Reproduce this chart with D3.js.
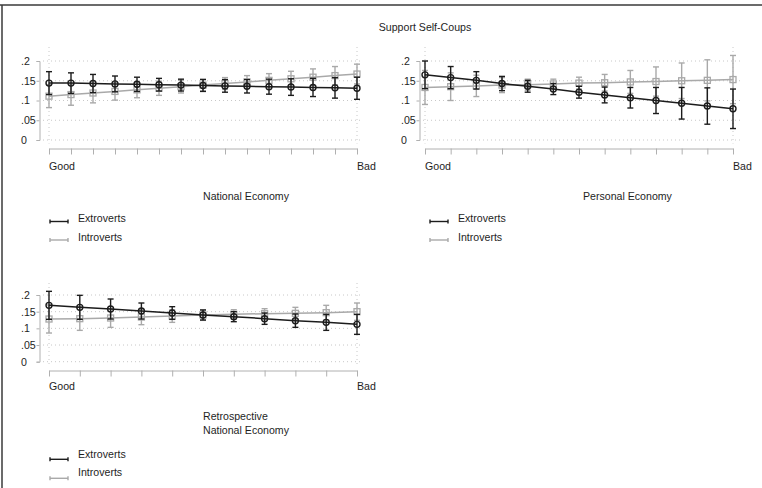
<!DOCTYPE html>
<html>
<head>
<meta charset="utf-8">
<script src="https://cdn.jsdelivr.net/npm/d3@7"></script>
<style>
  html, body { margin: 0; padding: 0; background: #fff; }
  svg { display: block; font-family: "Liberation Sans", Arial, Helvetica, sans-serif; }
</style>
</head>
<body>
<svg id="chart" width="762" height="488"></svg>
<script>
// ---- data -------------------------------------------------------------
const chartTitle = "Support Self-Coups";
const yTicks = [0, 0.05, 0.1, 0.15, 0.2];
const yTickLabels = ["0", ".05", ".1", ".15", ".2"];
const xEndLabels = ["Good", "Bad"];
const seriesNames = ["Extroverts", "Introverts"];

// National economy (15 levels)
const natLevels = [1, 2, 3, 4, 5, 6, 7, 8, 9, 10, 11, 12, 13, 14, 15];
const natExtro = [0.144, 0.144, 0.143, 0.142, 0.141, 0.140, 0.139, 0.138, 0.137, 0.136, 0.135, 0.134, 0.133, 0.132, 0.131];
const natExtroHalf = [0.029, 0.026, 0.023, 0.020, 0.018, 0.016, 0.015, 0.015, 0.016, 0.017, 0.019, 0.021, 0.023, 0.026, 0.028];
const natIntro = [0.111, 0.115, 0.119, 0.123, 0.127, 0.131, 0.135, 0.139, 0.143, 0.147, 0.151, 0.155, 0.159, 0.163, 0.167];
const natIntroHalf = [0.029, 0.027, 0.025, 0.022, 0.020, 0.018, 0.016, 0.015, 0.015, 0.016, 0.017, 0.019, 0.021, 0.023, 0.025];

// Personal economy (13 levels)
const persLevels = [1, 2, 3, 4, 5, 6, 7, 8, 9, 10, 11, 12, 13];
const persExtro = [0.165, 0.158, 0.151, 0.143, 0.136, 0.129, 0.121, 0.114, 0.107, 0.100, 0.093, 0.086, 0.079];
const persExtroHalf = [0.035, 0.028, 0.022, 0.018, 0.015, 0.014, 0.015, 0.020, 0.026, 0.033, 0.040, 0.046, 0.050];
const persIntro = [0.133, 0.135, 0.137, 0.139, 0.140, 0.142, 0.144, 0.145, 0.147, 0.148, 0.150, 0.151, 0.153];
const persIntroHalf = [0.043, 0.035, 0.027, 0.019, 0.014, 0.012, 0.015, 0.021, 0.029, 0.037, 0.045, 0.052, 0.061];

// Retrospective national economy (11 levels)
const retroLevels = [1, 2, 3, 4, 5, 6, 7, 8, 9, 10, 11];
const retroExtro = [0.169, 0.163, 0.158, 0.152, 0.146, 0.140, 0.135, 0.129, 0.123, 0.118, 0.112];
const retroExtroHalf = [0.042, 0.036, 0.030, 0.024, 0.019, 0.015, 0.015, 0.017, 0.020, 0.024, 0.030];
const retroIntro = [0.128, 0.129, 0.131, 0.134, 0.137, 0.140, 0.142, 0.144, 0.145, 0.147, 0.150];
const retroIntroHalf = [0.042, 0.035, 0.028, 0.023, 0.019, 0.016, 0.014, 0.015, 0.018, 0.022, 0.026];

// ---- layout -------------------------------------------------------------
const panels = [
  { title: ["National Economy"], levels: natLevels,
    series: [[natIntro, natIntroHalf], [natExtro, natExtroHalf]],
    ox: 0, axisX: 39.5, x0: 49, x1: 357, yBottom: 140, yTop: 61, plotTop: 47,
    xAxisY: 148.5, gridX0: 43, gridX1: 362, xLabelY: 170,
    titleY: [199.5], legendTextY: [222, 240.5], legendLineY: [221.5, 240] },
  { title: ["Personal Economy"], levels: persLevels,
    series: [[persIntro, persIntroHalf], [persExtro, persExtroHalf]],
    ox: 380, axisX: 39.5, x0: 45, x1: 353, yBottom: 140, yTop: 61, plotTop: 47,
    xAxisY: 148.5, gridX0: 43, gridX1: 363, xLabelY: 170,
    titleY: [199.5], legendTextY: [222, 240.5], legendLineY: [221.5, 240] },
  { title: ["Retrospective", "National Economy"], levels: retroLevels,
    series: [[retroIntro, retroIntroHalf], [retroExtro, retroExtroHalf]],
    ox: 0, axisX: 39.5, x0: 49, x1: 357, yBottom: 361.7, yTop: 295, plotTop: 283,
    xAxisY: 370.5, gridX0: 43, gridX1: 362, xLabelY: 390,
    titleY: [419.5, 434], legendTextY: [458, 476], legendLineY: [459.3, 478.3] }
];

const colors = ["#a9a9a9", "#1c1c1c"];   // introverts, extroverts
const gridColor = "#c8c8c8";
const axisColor = "#b0b0b0";
const textColor = "#1e1e1e";
const fontSize = 10.6;

const svg = d3.select("#chart");

// outer frame (top and left rules)
svg.append("line").attr("x1", 0).attr("x2", 762).attr("y1", 5).attr("y2", 5)
  .attr("stroke", "#3a3a3a").attr("stroke-width", 1.5);
svg.append("line").attr("x1", 2).attr("x2", 2).attr("y1", 5).attr("y2", 488)
  .attr("stroke", "#3a3a3a").attr("stroke-width", 1.5);

svg.append("text").attr("x", 425).attr("y", 31).attr("text-anchor", "middle")
  .attr("font-size", fontSize).attr("fill", textColor).text(chartTitle);

panels.forEach(p => {
  const g = svg.append("g").attr("transform", `translate(${p.ox},0)`);
  const x = d3.scaleLinear().domain(d3.extent(p.levels)).range([p.x0, p.x1]);
  const y = d3.scaleLinear().domain([0, 0.2]).range([p.yBottom, p.yTop]);

  // horizontal dotted grid
  g.append("g").selectAll("line").data(yTicks).join("line")
    .attr("x1", p.gridX0).attr("x2", p.gridX1)
    .attr("y1", d => y(d)).attr("y2", d => y(d))
    .attr("stroke", gridColor).attr("stroke-width", 1).attr("stroke-dasharray", "1,3");
  // vertical dotted grid at the first/last level
  const ends = d3.extent(p.levels);
  g.append("g").selectAll("line").data(ends).join("line")
    .attr("x1", d => x(d)).attr("x2", d => x(d))
    .attr("y1", p.plotTop).attr("y2", p.xAxisY - 5)
    .attr("stroke", gridColor).attr("stroke-width", 1).attr("stroke-dasharray", "1,3");

  // y axis
  const yAxis = d3.axisLeft(y).tickValues(yTicks).tickSize(3).tickFormat((d, i) => yTickLabels[i]);
  const ya = g.append("g").attr("transform", `translate(${p.axisX},0)`).call(yAxis);
  ya.select(".domain").attr("stroke", axisColor);
  ya.selectAll(".tick line").attr("stroke", axisColor);
  ya.selectAll(".tick text").attr("x", 21 - p.axisX).attr("text-anchor", "start")
    .attr("font-size", fontSize).attr("font-family", null).attr("fill", textColor);

  // x axis
  const xAxis = d3.axisBottom(x).tickValues(p.levels).tickSizeInner(6).tickSizeOuter(0).tickFormat("");
  const xa = g.append("g").attr("transform", `translate(0,${p.xAxisY})`).call(xAxis);
  xa.select(".domain").attr("stroke", axisColor);
  xa.selectAll(".tick line").attr("stroke", axisColor);
  g.append("text").attr("x", x(ends[0])).attr("y", p.xLabelY).attr("font-size", fontSize)
    .attr("fill", textColor).text(xEndLabels[0]);
  g.append("text").attr("x", x(ends[1])).attr("y", p.xLabelY).attr("font-size", fontSize)
    .attr("fill", textColor).text(xEndLabels[1]);

  // series: error bars, connecting line, hollow markers
  p.series.forEach(([vals, half], si) => {
    const col = colors[si];
    const pts = p.levels.map((lv, i) => ({ lv, v: vals[i], h: half[i] }));
    const eg = g.append("g").attr("stroke", col).attr("stroke-width", 1.4).attr("fill", "none");
    eg.selectAll("line.bar").data(pts).join("line").attr("class", "bar")
      .attr("x1", d => x(d.lv)).attr("x2", d => x(d.lv))
      .attr("y1", d => y(d.v - d.h)).attr("y2", d => y(d.v + d.h));
    eg.selectAll("line.capT").data(pts).join("line").attr("class", "capT")
      .attr("x1", d => x(d.lv) - 3).attr("x2", d => x(d.lv) + 3)
      .attr("y1", d => y(d.v + d.h)).attr("y2", d => y(d.v + d.h));
    eg.selectAll("line.capB").data(pts).join("line").attr("class", "capB")
      .attr("x1", d => x(d.lv) - 3).attr("x2", d => x(d.lv) + 3)
      .attr("y1", d => y(d.v - d.h)).attr("y2", d => y(d.v - d.h));

    g.append("path").datum(pts)
      .attr("d", d3.line().x(d => x(d.lv)).y(d => y(d.v)))
      .attr("fill", "none").attr("stroke", col).attr("stroke-width", 1.5);

    if (si === 1) {
      g.append("g").selectAll("circle").data(pts).join("circle")
        .attr("cx", d => x(d.lv)).attr("cy", d => y(d.v)).attr("r", 3)
        .attr("fill", "none").attr("stroke", col).attr("stroke-width", 1.4);
    } else {
      g.append("g").selectAll("rect").data(pts).join("rect")
        .attr("x", d => x(d.lv) - 3).attr("y", d => y(d.v) - 3)
        .attr("width", 6).attr("height", 6)
        .attr("fill", "none").attr("stroke", col).attr("stroke-width", 1.3);
    }
  });

  // panel title
  p.title.forEach((t, i) => {
    g.append("text").attr("x", 203).attr("y", p.titleY[i]).attr("font-size", fontSize)
      .attr("fill", textColor).text(t);
  });

  // legend (rcap keys)
  seriesNames.forEach((name, i) => {
    const col = colors[1 - i];
    const ly = p.legendLineY[i];
    const lg = g.append("g").attr("stroke", col).attr("stroke-width", 1.4);
    lg.append("line").attr("x1", 50).attr("x2", 68).attr("y1", ly).attr("y2", ly);
    lg.append("line").attr("x1", 50).attr("x2", 50).attr("y1", ly - 2).attr("y2", ly + 2);
    lg.append("line").attr("x1", 68).attr("x2", 68).attr("y1", ly - 2).attr("y2", ly + 2);
    g.append("text").attr("x", 78).attr("y", p.legendTextY[i]).attr("font-size", fontSize)
      .attr("fill", textColor).text(name);
  });
});
</script>
</body>
</html>
